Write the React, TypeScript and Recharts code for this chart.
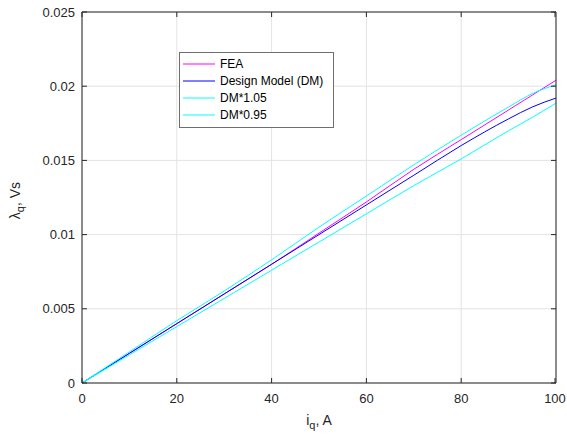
import React from "react";
import {
  CartesianGrid,
  Legend,
  Line,
  LineChart,
  XAxis,
  YAxis,
} from "recharts";

// values
const iq = [0, 10, 20, 30, 40, 50, 60, 70, 80, 90, 95, 100];
const fea = [0, 0.002, 0.004, 0.006, 0.008, 0.0101, 0.0122, 0.0144, 0.0164, 0.0184, 0.0194, 0.0204];
const designModel = [0, 0.002, 0.004, 0.006, 0.008, 0.01, 0.012, 0.014, 0.016, 0.0178, 0.0186, 0.0192];
const dmHigh = [0, 0.0021, 0.0042, 0.0062, 0.0083, 0.0105, 0.0126, 0.0147, 0.0167, 0.0186, 0.0195, 0.0201];
const dmLow = [0, 0.0019, 0.0038, 0.0057, 0.0076, 0.0095, 0.0114, 0.0133, 0.0151, 0.017, 0.0179, 0.01886];

const seriesNames = ["FEA", "Design Model (DM)", "DM*1.05", "DM*0.95"];
const xTicks = [0, 20, 40, 60, 80, 100];
const yTicks = [0, 0.005, 0.01, 0.015, 0.02, 0.025];

const data = iq.map((x, i) => ({
  iq: x,
  fea: fea[i],
  dm: designModel[i],
  dmHigh: dmHigh[i],
  dmLow: dmLow[i],
}));

const AXIS = "#262626";
const FONT = "'Liberation Sans', Arial, Helvetica, sans-serif";

function BottomTick({ x, y, payload }: any) {
  return (
    <g>
      <line x1={x} x2={x} y1={y} y2={y - 5} stroke={AXIS} strokeWidth={1} />
      <text x={x} y={y + 20} textAnchor="middle" fontSize={13} fill={AXIS} fontFamily={FONT}>
        {payload.value}
      </text>
    </g>
  );
}

function LeftTick({ x, y, payload }: any) {
  return (
    <g>
      <line x1={x} x2={x + 5} y1={y} y2={y} stroke={AXIS} strokeWidth={1} />
      <text x={x - 7} y={y} dy="0.35em" textAnchor="end" fontSize={13} fill={AXIS} fontFamily={FONT}>
        {String(payload.value)}
      </text>
    </g>
  );
}

function TopTick({ x, y }: any) {
  return <line x1={x} x2={x} y1={y} y2={y + 5} stroke={AXIS} strokeWidth={1} />;
}

function RightTick({ x, y }: any) {
  return <line x1={x} x2={x - 5} y1={y} y2={y} stroke={AXIS} strokeWidth={1} />;
}

function LegendBox({ payload }: any) {
  const items = [...(payload || [])].sort(
    (a: any, b: any) => seriesNames.indexOf(a.value) - seriesNames.indexOf(b.value)
  );
  return (
    <div
      style={{
        border: "1px solid #6e6e6e",
        background: "#fff",
        width: 153,
        padding: "2px 0 3px 0",
        fontFamily: FONT,
        fontSize: 12,
        color: "#000",
      }}
    >
      {items.map((entry: any) => (
        <div key={entry.value} style={{ display: "flex", alignItems: "center", height: 17.2 }}>
          <svg width={40} height={10} style={{ display: "block" }}>
            <line x1={3} x2={35} y1={5} y2={5} stroke={entry.color} strokeWidth={1} />
          </svg>
          <span style={{ whiteSpace: "nowrap" }}>{entry.value}</span>
        </div>
      ))}
    </div>
  );
}

export default function App() {
  return (
    <div style={{ position: "absolute", left: 0, top: 0, width: 567, height: 437, background: "#fff" }}>
      <LineChart
        width={567}
        height={437}
        data={data}
        margin={{ top: 11, right: 10, bottom: 0, left: 0 }}
      >
        <CartesianGrid stroke="#e3e3e3" strokeWidth={1} />
        <XAxis
          dataKey="iq"
          type="number"
          domain={[0, 100]}
          ticks={xTicks}
          height={54}
          tickSize={0}
          tickMargin={0}
          tick={<BottomTick />}
          tickLine={false}
          axisLine={{ stroke: AXIS }}
          label={{
            content: ({ viewBox }: any) => (
              <text
                x={viewBox.x + viewBox.width / 2}
                y={425}
                textAnchor="middle"
                fontSize={14}
                fill={AXIS}
                fontFamily={FONT}
              >
                i<tspan dy={4} fontSize={11}>q</tspan>
                <tspan dy={-4}>, A</tspan>
              </text>
            ),
          }}
        />
        <XAxis
          xAxisId="top"
          orientation="top"
          dataKey="iq"
          type="number"
          domain={[0, 100]}
          ticks={xTicks}
          height={1}
          tickSize={0}
          tickMargin={0}
          tick={<TopTick />}
          tickLine={false}
          axisLine={{ stroke: AXIS }}
        />
        <YAxis
          type="number"
          domain={[0, 0.025]}
          ticks={yTicks}
          width={82}
          tickSize={0}
          tickMargin={0}
          tick={<LeftTick />}
          tickLine={false}
          axisLine={{ stroke: AXIS }}
          label={{
            content: ({ viewBox }: any) => (
              <text
                transform={`translate(20, ${viewBox.y + viewBox.height / 2 + 3}) rotate(-90)`}
                textAnchor="middle"
                fontSize={14}
                fill={AXIS}
                fontFamily={FONT}
              >
                λ<tspan dy={4} fontSize={11}>q</tspan>
                <tspan dy={-4}>, Vs</tspan>
              </text>
            ),
          }}
        />
        <YAxis
          yAxisId="right"
          orientation="right"
          type="number"
          domain={[0, 0.025]}
          ticks={yTicks}
          width={1}
          tickSize={0}
          tickMargin={0}
          tick={<RightTick />}
          tickLine={false}
          axisLine={{ stroke: AXIS }}
        />
        <Legend
          layout="vertical"
          align="center"
          verticalAlign="middle"
          wrapperStyle={{ left: 179, top: 52, width: "auto", height: "auto" }}
          content={<LegendBox />}
        />
        <Line
          type="monotone"
          dataKey="fea"
          name="FEA"
          stroke="#ff00ff"
          strokeWidth={1}
          dot={false}
          isAnimationActive={false}
        />
        <Line
          type="monotone"
          dataKey="dm"
          name="Design Model (DM)"
          stroke="#0000ff"
          strokeWidth={1}
          dot={false}
          isAnimationActive={false}
        />
        <Line
          type="monotone"
          dataKey="dmHigh"
          name="DM*1.05"
          stroke="#00ffff"
          strokeWidth={1}
          dot={false}
          isAnimationActive={false}
        />
        <Line
          xAxisId="top"
          yAxisId="right"
          type="monotone"
          dataKey="dmLow"
          name="DM*0.95"
          stroke="#00ffff"
          strokeWidth={1}
          dot={false}
          isAnimationActive={false}
        />
      </LineChart>
    </div>
  );
}
